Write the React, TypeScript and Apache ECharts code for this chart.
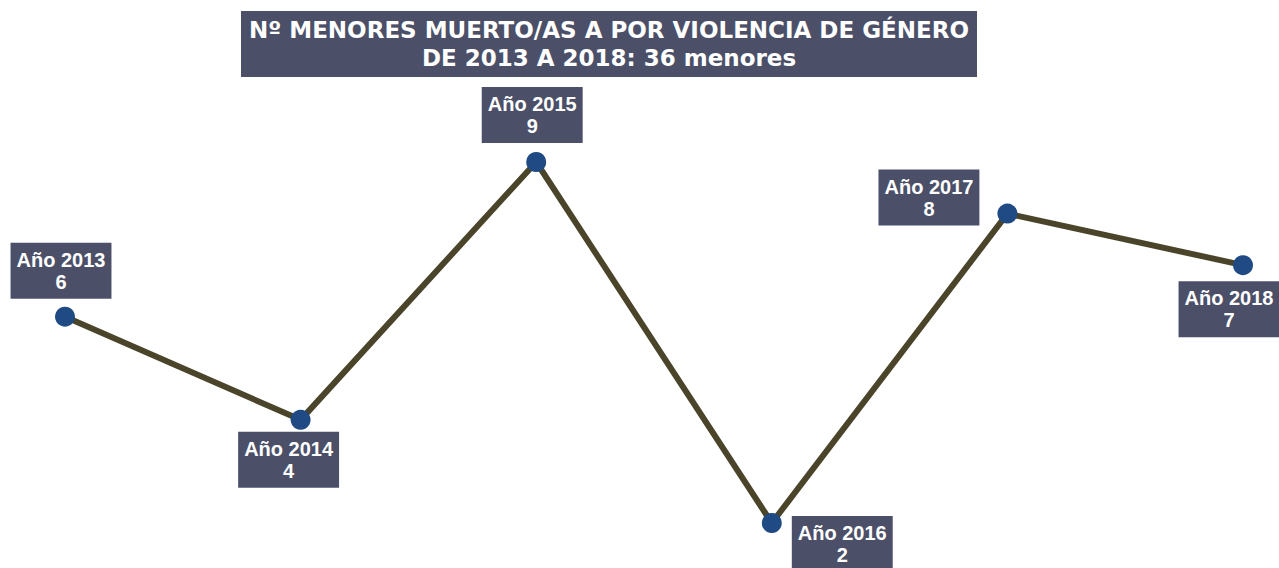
import React, { useEffect, useRef } from "react";
import * as echarts from "echarts";

const years = ["2013", "2014", "2015", "2016", "2017", "2018"];
const values = [6, 4, 9, 2, 8, 7];
const titleLines = ["Nº MENORES MUERTO/AS A POR VIOLENCIA DE GÉNERO", "DE 2013 A 2018: 36 menores"];

const BOX = "#4b5068";

const labelPlacements: any[] = [
  { position: "top", distance: 8, offset: [-4, 0] },
  { position: "bottom", distance: 2, offset: [-12, 0] },
  { position: "top", distance: 9, offset: [-4, 0] },
  { position: "right", distance: 10, offset: [0, 21] },
  { position: "left", distance: 18, offset: [0, -16] },
  { position: "bottom", distance: 6, offset: [-14, 0] },
];

const txt = {
  color: "#ffffff",
  fontFamily: "'Liberation Sans', Arial, sans-serif",
  fontWeight: "bold",
  fontSize: 20,
  lineHeight: 22,
  align: "center",
};

export default function App() {
  const ref = useRef<HTMLDivElement>(null);
  useEffect(() => {
    const chart = echarts.init(ref.current!, null, { renderer: "svg" });
    chart.setOption({
      animation: false,
      backgroundColor: "#ffffff",
      grid: { left: 65, right: 36, top: 162, bottom: 45 },
      xAxis: { type: "category", data: years, boundaryGap: false, show: false },
      yAxis: { type: "value", min: 2, max: 9, show: false },
      graphic: [
        {
          type: "rect",
          shape: { x: 241, y: 11, width: 736, height: 66 },
          style: { fill: BOX },
        },
        {
          type: "text",
          x: 609,
          y: 44,
          style: {
            text: titleLines.join("\n"),
            fill: "#ffffff",
            font: "bold 23px 'DejaVu Sans', sans-serif",
            align: "center",
            verticalAlign: "middle",
            lineHeight: 28,
          },
        },
      ],
      series: [
        {
          type: "line",
          clip: false,
          symbol: "circle",
          symbolSize: 20,
          itemStyle: { color: "#1f4a83" },
          lineStyle: { color: "#4a452a", width: 6 },
          label: {
            show: true,
            formatter: (p: any) => `{t|Año ${p.name}}\n{t|${p.value}}`,
            color: "#ffffff",
            fontFamily: "'Liberation Sans', Arial, sans-serif",
            fontWeight: "bold",
            fontSize: 20,
            lineHeight: 22,
            backgroundColor: BOX,
            padding: [6, 6, 6, 6],
            rich: { t: txt },
          },
          data: values.map((v, i) => ({ value: v, label: labelPlacements[i] })),
        },
      ],
    });
    return () => chart.dispose();
  }, []);
  return (
    <div
      ref={ref}
      style={{ position: "absolute", left: 0, top: 0, width: 1279, height: 568 }}
    />
  );
}
